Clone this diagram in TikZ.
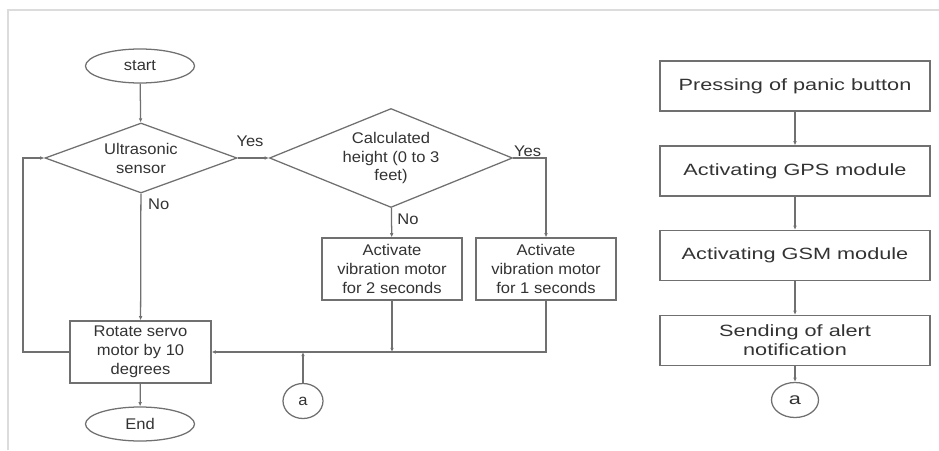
\documentclass[tikz,border=0pt]{standalone}
\usepackage{fontspec}
\setmainfont{Liberation Sans}
\newfontfamily\leftfont{Liberation Sans}[FakeStretch=1.07]
\newfontfamily\rightfont{Liberation Sans}[FakeStretch=1.33]
\usetikzlibrary{shapes.geometric,arrows.meta}
\definecolor{linegray}{HTML}{707070}
\definecolor{textgray}{HTML}{333333}
\definecolor{framegray}{HTML}{DCDCDC}
\begin{document}
\begin{tikzpicture}[
  every node/.style={text=textgray},
  flow/.style={draw=linegray, line width=0.9pt, -{Latex[length=3pt,width=2.6pt]}},
  wire/.style={draw=linegray, line width=0.9pt},
  termbox/.style={ellipse, draw=linegray, line width=0.9pt, inner sep=0pt, minimum width=2.725cm, minimum height=0.85cm, font=\leftfont\fontsize{11}{13.5}\selectfont},
  askbox/.style={diamond, draw=linegray, line width=0.9pt, inner sep=0pt, align=center, font=\leftfont\fontsize{11}{13.5}\selectfont},
  stepbox/.style={rectangle, draw=linegray, line width=0.9pt, inner sep=0pt, align=center, minimum width=3.5cm, minimum height=1.55cm, font=\leftfont\fontsize{11}{13.5}\selectfont},
  alarmbox/.style={rectangle, draw=linegray, line width=0.9pt, inner sep=0pt, align=center, minimum width=6.75cm, minimum height=1.25cm, font=\rightfont\fontsize{11.6}{13.5}\selectfont},
  linkbox/.style={ellipse, draw=linegray, line width=0.9pt, inner sep=0pt},
  answer/.style={inner sep=1pt, font=\leftfont\fontsize{11}{13.5}\selectfont}
]
\useasboundingbox (0, 0) rectangle (23.475, 11.25);
\draw[framegray, line width=1.1pt] (0.2, 0) -- (0.2, 11.0) -- (23.475, 11.0);

\node[termbox] (start) at (3.5, 9.6) {start};
\node[askbox, aspect=2.74, minimum width=4.8cm, minimum height=1.75cm] (sensor) at (3.525, 7.3) {Ultrasonic\\sensor};
\node[askbox, aspect=2.45, minimum width=6.075cm, minimum height=2.475cm] (height) at (9.775, 7.3) {Calculated\\height (0 to 3\\feet)};
\node[stepbox] (twosec) at (9.8, 4.525) {Activate\\vibration motor\\for 2 seconds};
\node[stepbox] (onesec) at (13.65, 4.525) {Activate\\vibration motor\\for 1 seconds};
\node[stepbox, minimum width=3.525cm] (servo) at (3.5125, 2.45) {Rotate servo\\motor by 10\\degrees};
\node[termbox] (end) at (3.5, 0.65) {End};
\node[linkbox, minimum width=1.0cm, minimum height=0.875cm, font=\leftfont\fontsize{11}{13.5}\selectfont] (linkin) at (7.575, 1.225) {a};
\coordinate (loop) at (0.575, 2.45);

\node[answer] (yesone) at (6.25, 7.72) {Yes};
\node[answer] (yestwo) at (13.19, 7.47) {Yes};
\node[answer] (noone) at (3.97, 6.15) {No};
\node[answer] (notwo) at (10.2, 5.77) {No};

\draw[flow] (start) -- (sensor);
\draw[flow] (sensor) -- (height);
\draw[flow] (height.east) -| (onesec.north);
\draw[flow] (height) -- (twosec);
\draw[flow] (sensor) -- (servo);
\draw[flow] (twosec.south) -- (twosec.south |- servo.east);
\draw[flow] (onesec.south) |- (servo.east);
\draw[flow] (linkin) -- (linkin.north |- servo.east);
\draw[flow] (servo) -- (end);
\draw[flow] (servo.west) -- (loop) |- (sensor.west);

\node[alarmbox] (panic) at (19.875, 9.1) {Pressing of panic button};
\node[alarmbox] (gps) at (19.875, 6.975) {Activating GPS module};
\node[alarmbox] (gsm) at (19.875, 4.8625) {Activating GSM module};
\node[alarmbox] (alert) at (19.875, 2.7375) {Sending of alert\\notification};
\node[linkbox, minimum width=1.175cm, minimum height=0.875cm, font=\rightfont\fontsize{11.6}{13.5}\selectfont] (linkout) at (19.875, 1.25) {a};

\draw[flow] (panic) -- (gps);
\draw[flow] (gps) -- (gsm);
\draw[flow] (gsm) -- (alert);
\draw[flow] (alert) -- (linkout);
\end{tikzpicture}
\end{document}
